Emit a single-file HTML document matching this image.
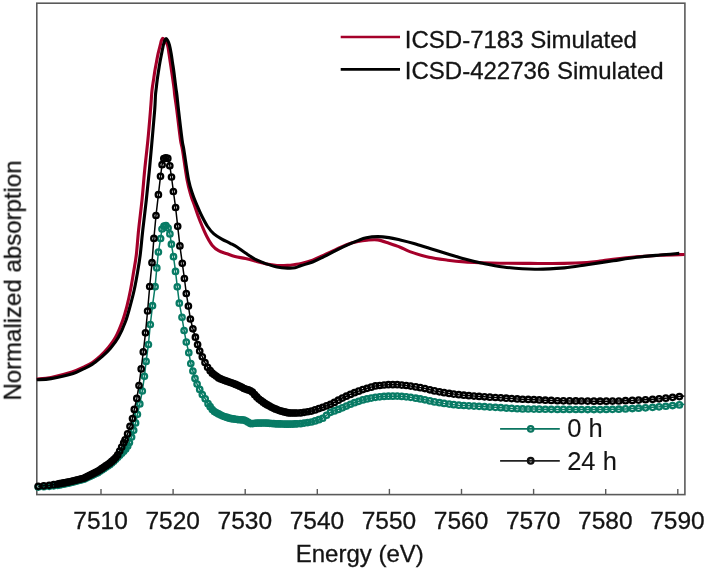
<!DOCTYPE html>
<html><head><meta charset="utf-8"><style>
html,body{margin:0;padding:0;background:#fff;width:708px;height:571px;overflow:hidden}
svg{display:block;filter:blur(0.35px)}
text{font-family:"Liberation Sans",sans-serif}
</style></head><body>
<svg width="708" height="571" viewBox="0 0 708 571">
<rect width="708" height="571" fill="#fff"/>
<rect x="36.8" y="3.2" width="648.1" height="491.4" fill="none" stroke="#5a5a5a" stroke-width="1.6"/>
<g stroke="#5a5a5a" stroke-width="1.4"><line x1="101.00" y1="494.6" x2="101.00" y2="488.9"/><line x1="173.10" y1="494.6" x2="173.10" y2="488.9"/><line x1="245.20" y1="494.6" x2="245.20" y2="488.9"/><line x1="317.30" y1="494.6" x2="317.30" y2="488.9"/><line x1="389.40" y1="494.6" x2="389.40" y2="488.9"/><line x1="461.50" y1="494.6" x2="461.50" y2="488.9"/><line x1="533.60" y1="494.6" x2="533.60" y2="488.9"/><line x1="605.70" y1="494.6" x2="605.70" y2="488.9"/><line x1="677.80" y1="494.6" x2="677.80" y2="488.9"/></g>
<defs><clipPath id="c"><rect x="36.8" y="3.2" width="647.7" height="491.2"/></clipPath></defs>
<g>
<g fill="none" stroke-linejoin="round" stroke-linecap="butt">
<path d="M36.80,379.00 C39.17,378.73 45.13,378.57 51.00,377.40 C56.87,376.23 66.33,373.82 72.00,372.00 C77.67,370.18 81.60,368.08 85.00,366.50 C88.40,364.92 89.87,364.22 92.40,362.50 C94.93,360.78 97.65,358.57 100.20,356.20 C102.75,353.83 105.15,351.45 107.70,348.30 C110.25,345.15 113.07,341.77 115.50,337.30 C117.93,332.83 120.38,326.75 122.30,321.50 C124.22,316.25 125.63,311.05 127.00,305.80 C128.37,300.55 129.40,295.63 130.50,290.00 C131.60,284.37 132.63,277.83 133.60,272.00 C134.57,266.17 135.47,262.00 136.30,255.00 C137.13,248.00 137.65,239.17 138.60,230.00 C139.55,220.83 140.98,210.00 142.00,200.00 C143.02,190.00 143.72,180.00 144.70,170.00 C145.68,160.00 146.93,150.00 147.90,140.00 C148.87,130.00 149.88,117.50 150.50,110.00 C151.12,102.50 151.32,98.55 151.60,95.00 C151.88,91.45 151.88,91.20 152.20,88.70 C152.52,86.20 153.07,82.92 153.50,80.00 C153.93,77.08 154.32,74.12 154.80,71.20 C155.28,68.28 155.85,65.42 156.40,62.50 C156.95,59.58 157.45,56.62 158.10,53.70 C158.75,50.78 159.75,47.18 160.30,45.00 C160.85,42.82 160.98,41.70 161.40,40.60 C161.82,39.50 162.27,38.40 162.80,38.40 C163.33,38.40 163.82,39.50 164.60,40.60 C165.38,41.70 166.77,42.82 167.50,45.00 C168.23,47.18 168.53,50.78 169.00,53.70 C169.47,56.62 169.87,59.58 170.30,62.50 C170.73,65.42 171.17,68.28 171.60,71.20 C172.03,74.12 172.48,77.08 172.90,80.00 C173.32,82.92 173.80,86.20 174.10,88.70 C174.40,91.20 174.25,91.45 174.70,95.00 C175.15,98.55 175.83,102.50 176.80,110.00 C177.77,117.50 179.55,133.33 180.50,140.00 C181.45,146.67 181.40,143.33 182.50,150.00 C183.60,156.67 185.72,172.50 187.10,180.00 C188.48,187.50 189.57,190.75 190.80,195.00 C192.03,199.25 193.28,202.00 194.50,205.50 C195.72,209.00 196.80,212.50 198.10,216.00 C199.40,219.50 200.80,223.00 202.30,226.50 C203.80,230.00 205.43,233.85 207.10,237.00 C208.77,240.15 210.38,243.12 212.30,245.40 C214.22,247.68 216.15,249.30 218.60,250.70 C221.05,252.10 224.27,252.83 227.00,253.80 C229.73,254.77 231.92,255.70 235.00,256.50 C238.08,257.30 242.00,257.80 245.50,258.60 C249.00,259.40 252.50,260.38 256.00,261.30 C259.50,262.22 263.00,263.40 266.50,264.10 C270.00,264.80 273.50,265.28 277.00,265.50 C280.50,265.72 284.50,265.57 287.50,265.40 C290.50,265.23 292.70,264.83 295.00,264.50 C297.30,264.17 298.37,264.13 301.30,263.40 C304.23,262.67 308.83,261.48 312.60,260.10 C316.37,258.72 320.13,256.82 323.90,255.10 C327.67,253.38 331.43,251.53 335.20,249.80 C338.97,248.07 342.73,246.07 346.50,244.70 C350.27,243.33 354.38,242.35 357.80,241.60 C361.22,240.85 363.70,240.48 367.00,240.20 C370.30,239.92 373.93,239.38 377.60,239.90 C381.27,240.42 385.23,242.08 389.00,243.30 C392.77,244.52 396.73,245.82 400.20,247.20 C403.67,248.58 405.00,249.92 409.80,251.60 C414.60,253.28 422.67,255.87 429.00,257.30 C435.33,258.73 441.85,259.43 447.80,260.20 C453.75,260.97 459.05,261.48 464.70,261.90 C470.35,262.32 475.82,262.48 481.70,262.70 C487.58,262.92 491.88,263.08 500.00,263.20 C508.12,263.32 519.68,263.37 530.40,263.40 C541.12,263.43 554.88,263.55 564.30,263.40 C573.72,263.25 580.95,262.88 586.90,262.50 C592.85,262.12 595.65,261.63 600.00,261.10 C604.35,260.57 606.90,260.02 613.00,259.30 C619.10,258.58 628.77,257.48 636.60,256.80 C644.43,256.12 652.02,255.58 660.00,255.20 C667.98,254.82 680.42,254.62 684.50,254.50" stroke="#a5002a" stroke-width="3.1"/>
<path d="M36.80,379.80 C39.17,379.60 45.07,379.60 51.00,378.60 C56.93,377.60 66.90,375.47 72.40,373.80 C77.90,372.13 81.07,369.95 84.00,368.60 C86.93,367.25 88.22,366.72 90.00,365.70 C91.78,364.68 92.60,364.08 94.70,362.50 C96.80,360.92 99.97,358.57 102.60,356.20 C105.23,353.83 107.87,351.45 110.50,348.30 C113.13,345.15 115.90,341.77 118.40,337.30 C120.90,332.83 123.53,326.75 125.50,321.50 C127.47,316.25 128.75,311.05 130.20,305.80 C131.65,300.55 132.97,295.63 134.20,290.00 C135.43,284.37 136.60,277.83 137.60,272.00 C138.60,266.17 139.33,262.00 140.20,255.00 C141.07,248.00 141.78,239.17 142.80,230.00 C143.82,220.83 145.20,210.00 146.30,200.00 C147.40,190.00 148.43,180.00 149.40,170.00 C150.37,160.00 151.22,150.00 152.10,140.00 C152.98,130.00 154.13,117.50 154.70,110.00 C155.27,102.50 155.25,98.55 155.50,95.00 C155.75,91.45 155.92,91.20 156.20,88.70 C156.48,86.20 156.82,82.92 157.20,80.00 C157.58,77.08 158.05,74.12 158.50,71.20 C158.95,68.28 159.38,65.42 159.90,62.50 C160.42,59.58 161.02,56.62 161.60,53.70 C162.18,50.78 162.90,47.15 163.40,45.00 C163.90,42.85 164.15,41.87 164.60,40.80 C165.05,39.73 165.57,38.60 166.10,38.60 C166.63,38.60 167.25,39.73 167.80,40.80 C168.35,41.87 168.83,42.85 169.40,45.00 C169.97,47.15 170.68,50.78 171.20,53.70 C171.72,56.62 172.07,59.58 172.50,62.50 C172.93,65.42 173.40,68.28 173.80,71.20 C174.20,74.12 174.53,77.08 174.90,80.00 C175.27,82.92 175.67,86.20 176.00,88.70 C176.33,91.20 176.48,91.45 176.90,95.00 C177.32,98.55 177.63,102.50 178.50,110.00 C179.37,117.50 181.20,133.33 182.10,140.00 C183.00,146.67 182.82,143.33 183.90,150.00 C184.98,156.67 187.10,172.50 188.60,180.00 C190.10,187.50 191.48,190.75 192.90,195.00 C194.32,199.25 195.62,202.00 197.10,205.50 C198.58,209.00 200.05,212.50 201.80,216.00 C203.55,219.50 205.58,223.52 207.60,226.50 C209.62,229.48 211.53,231.80 213.90,233.90 C216.27,236.00 219.08,237.53 221.80,239.10 C224.52,240.67 227.67,241.98 230.20,243.30 C232.73,244.62 234.45,245.38 237.00,247.00 C239.55,248.62 242.33,250.88 245.50,253.00 C248.67,255.12 252.50,257.88 256.00,259.70 C259.50,261.52 263.00,262.68 266.50,263.90 C270.00,265.12 273.50,266.30 277.00,267.00 C280.50,267.70 284.50,267.97 287.50,268.10 C290.50,268.23 292.70,268.23 295.00,267.80 C297.30,267.37 298.37,266.47 301.30,265.50 C304.23,264.53 308.83,263.48 312.60,262.00 C316.37,260.52 320.13,258.45 323.90,256.60 C327.67,254.75 331.43,252.78 335.20,250.90 C338.97,249.02 342.73,247.02 346.50,245.30 C350.27,243.58 354.50,241.85 357.80,240.60 C361.10,239.35 363.00,238.47 366.30,237.80 C369.60,237.13 373.83,236.63 377.60,236.60 C381.37,236.57 385.13,237.03 388.90,237.60 C392.67,238.17 396.03,239.02 400.20,240.00 C404.37,240.98 408.80,242.03 413.90,243.50 C419.00,244.97 425.15,247.07 430.80,248.80 C436.45,250.53 442.15,252.20 447.80,253.90 C453.45,255.60 459.13,257.48 464.70,259.00 C470.27,260.52 474.77,261.67 481.20,263.00 C487.63,264.33 494.35,265.95 503.30,267.00 C512.25,268.05 524.73,269.15 534.90,269.30 C545.07,269.45 555.63,268.67 564.30,267.90 C572.97,267.13 578.73,265.90 586.90,264.70 C595.07,263.50 605.02,261.93 613.30,260.70 C621.58,259.47 628.83,258.25 636.60,257.30 C644.37,256.35 652.78,255.65 659.90,255.00 C667.02,254.35 676.07,253.67 679.30,253.40" stroke="#000" stroke-width="3.1"/>
<path d="M38.20,487.10 L43.80,486.70 L49.20,486.30 L53.70,485.80 L57.70,485.30 L59.70,484.89 L61.70,484.49 L63.70,484.08 L65.70,483.67 L67.70,483.27 L69.70,482.86 L71.70,482.35 L73.70,481.82 L75.70,481.29 L77.70,480.77 L79.70,480.24 L81.70,479.71 L83.70,479.18 L85.70,478.30 L87.70,477.36 L89.70,476.41 L91.70,475.47 L93.70,474.53 L95.70,473.58 L97.70,472.64 L99.70,471.37 L101.70,470.03 L103.70,468.70 L105.70,467.37 L107.70,466.03 L109.70,464.70 L111.70,462.97 L113.70,461.17 L115.70,459.30 L117.70,457.30 L119.70,455.30 L121.70,453.30 L123.70,451.30 L125.70,448.96 L127.70,445.97 L129.40,442.50 L131.60,437.00 L133.70,430.30 L135.60,422.90 L137.40,414.30 L139.80,403.90 L142.30,391.00 L144.40,376.30 L146.10,361.40 L148.40,344.50 L150.30,324.50 L152.50,305.70 L155.10,286.70 L156.80,267.90 L158.40,252.00 L160.60,238.50 L162.00,229.00 L164.00,226.20 L166.00,225.50 L168.10,228.00 L169.90,233.90 L171.40,244.20 L173.50,256.70 L175.50,271.40 L177.30,286.80 L179.30,303.20 L182.00,317.30 L184.10,330.50 L186.30,342.10 L188.80,352.70 L190.80,363.60 L192.90,371.00 L195.00,378.40 L197.10,384.10 L199.70,389.40 L202.30,394.60 L205.20,398.80 L208.05,403.72 L210.17,406.71 L212.29,409.50 L214.41,411.60 L216.53,412.78 L218.65,413.95 L220.77,415.12 L222.89,416.09 L225.01,416.77 L227.13,417.45 L229.25,418.13 L231.37,418.64 L233.49,418.94 L235.61,419.24 L237.73,419.53 L239.85,419.76 L241.97,419.88 L244.09,420.05 L246.21,421.11 L248.33,422.27 L250.45,423.58 L252.57,423.55 L254.69,423.26 L256.81,423.09 L258.93,423.07 L261.05,423.04 L263.17,423.02 L265.29,423.02 L267.41,423.17 L269.53,423.32 L271.65,423.48 L273.77,423.63 L275.89,423.78 L278.01,423.91 L280.13,423.97 L282.25,424.02 L284.37,424.08 L286.49,424.14 L288.61,424.19 L290.73,424.12 L292.85,424.03 L294.97,423.93 L297.09,423.84 L300.60,423.64 L304.15,423.11 L307.76,422.56 L311.41,422.01 L315.11,420.89 L318.86,419.68 L322.66,418.25 L326.52,415.26 L330.42,412.34 L334.36,410.88 L338.32,409.41 L342.32,407.85 L346.35,406.07 L350.41,404.27 L354.50,402.68 L358.62,401.33 L362.78,399.97 L366.97,398.97 L371.20,398.11 L375.45,397.28 L379.74,396.86 L384.07,396.44 L388.43,396.18 L392.82,396.14 L397.25,396.10 L401.70,396.45 L406.20,396.84 L410.70,397.36 L415.80,398.19 L420.30,398.93 L424.90,399.81 L429.90,400.92 L434.50,401.90 L439.50,402.69 L444.10,403.42 L449.20,404.10 L453.70,404.65 L458.80,405.16 L463.80,405.52 L468.90,405.85 L474.00,406.10 L479.10,406.36 L484.50,406.68 L489.90,407.03 L495.40,407.37 L500.80,407.72 L506.20,408.06 L511.60,408.40 L517.20,408.75 L522.60,408.94 L528.20,409.01 L533.90,409.08 L539.30,409.15 L545.30,409.23 L551.30,409.30 L557.40,409.38 L563.40,409.42 L569.60,409.45 L575.80,409.48 L581.50,409.51 L587.70,409.54 L593.90,409.57 L600.10,409.60 L606.30,409.47 L612.50,409.34 L618.80,409.20 L625.50,408.88 L632.30,408.53 L638.60,408.22 L645.50,407.86 L652.60,407.34 L659.10,406.87 L665.80,406.23 L672.60,405.57 L679.40,404.90 L684.50,404.30" stroke="#087b65" stroke-width="1.5"/>
</g>
<g fill="none" stroke="#087b65" stroke-width="2.3"><circle cx="38.20" cy="487.10" r="2.7"/><circle cx="43.80" cy="486.70" r="2.7"/><circle cx="49.20" cy="486.30" r="2.7"/><circle cx="53.70" cy="485.80" r="2.7"/><circle cx="57.70" cy="485.30" r="2.7"/><circle cx="59.70" cy="484.89" r="2.7"/><circle cx="61.70" cy="484.49" r="2.7"/><circle cx="63.70" cy="484.08" r="2.7"/><circle cx="65.70" cy="483.67" r="2.7"/><circle cx="67.70" cy="483.27" r="2.7"/><circle cx="69.70" cy="482.86" r="2.7"/><circle cx="71.70" cy="482.35" r="2.7"/><circle cx="73.70" cy="481.82" r="2.7"/><circle cx="75.70" cy="481.29" r="2.7"/><circle cx="77.70" cy="480.77" r="2.7"/><circle cx="79.70" cy="480.24" r="2.7"/><circle cx="81.70" cy="479.71" r="2.7"/><circle cx="83.70" cy="479.18" r="2.7"/><circle cx="85.70" cy="478.30" r="2.7"/><circle cx="87.70" cy="477.36" r="2.7"/><circle cx="89.70" cy="476.41" r="2.7"/><circle cx="91.70" cy="475.47" r="2.7"/><circle cx="93.70" cy="474.53" r="2.7"/><circle cx="95.70" cy="473.58" r="2.7"/><circle cx="97.70" cy="472.64" r="2.7"/><circle cx="99.70" cy="471.37" r="2.7"/><circle cx="101.70" cy="470.03" r="2.7"/><circle cx="103.70" cy="468.70" r="2.7"/><circle cx="105.70" cy="467.37" r="2.7"/><circle cx="107.70" cy="466.03" r="2.7"/><circle cx="109.70" cy="464.70" r="2.7"/><circle cx="111.70" cy="462.97" r="2.7"/><circle cx="113.70" cy="461.17" r="2.7"/><circle cx="115.70" cy="459.30" r="2.7"/><circle cx="117.70" cy="457.30" r="2.7"/><circle cx="119.70" cy="455.30" r="2.7"/><circle cx="121.70" cy="453.30" r="2.7"/><circle cx="123.70" cy="451.30" r="2.7"/><circle cx="125.70" cy="448.96" r="2.7"/><circle cx="127.70" cy="445.97" r="2.7"/><circle cx="129.40" cy="442.50" r="2.7"/><circle cx="131.60" cy="437.00" r="2.7"/><circle cx="133.70" cy="430.30" r="2.7"/><circle cx="135.60" cy="422.90" r="2.7"/><circle cx="137.40" cy="414.30" r="2.7"/><circle cx="139.80" cy="403.90" r="2.7"/><circle cx="142.30" cy="391.00" r="2.7"/><circle cx="144.40" cy="376.30" r="2.7"/><circle cx="146.10" cy="361.40" r="2.7"/><circle cx="148.40" cy="344.50" r="2.7"/><circle cx="150.30" cy="324.50" r="2.7"/><circle cx="152.50" cy="305.70" r="2.7"/><circle cx="155.10" cy="286.70" r="2.7"/><circle cx="156.80" cy="267.90" r="2.7"/><circle cx="158.40" cy="252.00" r="2.7"/><circle cx="160.60" cy="238.50" r="2.7"/><circle cx="162.00" cy="229.00" r="2.7"/><circle cx="164.00" cy="226.20" r="2.7"/><circle cx="166.00" cy="225.50" r="2.7"/><circle cx="168.10" cy="228.00" r="2.7"/><circle cx="169.90" cy="233.90" r="2.7"/><circle cx="171.40" cy="244.20" r="2.7"/><circle cx="173.50" cy="256.70" r="2.7"/><circle cx="175.50" cy="271.40" r="2.7"/><circle cx="177.30" cy="286.80" r="2.7"/><circle cx="179.30" cy="303.20" r="2.7"/><circle cx="182.00" cy="317.30" r="2.7"/><circle cx="184.10" cy="330.50" r="2.7"/><circle cx="186.30" cy="342.10" r="2.7"/><circle cx="188.80" cy="352.70" r="2.7"/><circle cx="190.80" cy="363.60" r="2.7"/><circle cx="192.90" cy="371.00" r="2.7"/><circle cx="195.00" cy="378.40" r="2.7"/><circle cx="197.10" cy="384.10" r="2.7"/><circle cx="199.70" cy="389.40" r="2.7"/><circle cx="202.30" cy="394.60" r="2.7"/><circle cx="205.20" cy="398.80" r="2.7"/><circle cx="208.05" cy="403.72" r="2.7"/><circle cx="210.17" cy="406.71" r="2.7"/><circle cx="212.29" cy="409.50" r="2.7"/><circle cx="214.41" cy="411.60" r="2.7"/><circle cx="216.53" cy="412.78" r="2.7"/><circle cx="218.65" cy="413.95" r="2.7"/><circle cx="220.77" cy="415.12" r="2.7"/><circle cx="222.89" cy="416.09" r="2.7"/><circle cx="225.01" cy="416.77" r="2.7"/><circle cx="227.13" cy="417.45" r="2.7"/><circle cx="229.25" cy="418.13" r="2.7"/><circle cx="231.37" cy="418.64" r="2.7"/><circle cx="233.49" cy="418.94" r="2.7"/><circle cx="235.61" cy="419.24" r="2.7"/><circle cx="237.73" cy="419.53" r="2.7"/><circle cx="239.85" cy="419.76" r="2.7"/><circle cx="241.97" cy="419.88" r="2.7"/><circle cx="244.09" cy="420.05" r="2.7"/><circle cx="246.21" cy="421.11" r="2.7"/><circle cx="248.33" cy="422.27" r="2.7"/><circle cx="250.45" cy="423.58" r="2.7"/><circle cx="252.57" cy="423.55" r="2.7"/><circle cx="254.69" cy="423.26" r="2.7"/><circle cx="256.81" cy="423.09" r="2.7"/><circle cx="258.93" cy="423.07" r="2.7"/><circle cx="261.05" cy="423.04" r="2.7"/><circle cx="263.17" cy="423.02" r="2.7"/><circle cx="265.29" cy="423.02" r="2.7"/><circle cx="267.41" cy="423.17" r="2.7"/><circle cx="269.53" cy="423.32" r="2.7"/><circle cx="271.65" cy="423.48" r="2.7"/><circle cx="273.77" cy="423.63" r="2.7"/><circle cx="275.89" cy="423.78" r="2.7"/><circle cx="278.01" cy="423.91" r="2.7"/><circle cx="280.13" cy="423.97" r="2.7"/><circle cx="282.25" cy="424.02" r="2.7"/><circle cx="284.37" cy="424.08" r="2.7"/><circle cx="286.49" cy="424.14" r="2.7"/><circle cx="288.61" cy="424.19" r="2.7"/><circle cx="290.73" cy="424.12" r="2.7"/><circle cx="292.85" cy="424.03" r="2.7"/><circle cx="294.97" cy="423.93" r="2.7"/><circle cx="297.09" cy="423.84" r="2.7"/><circle cx="300.60" cy="423.64" r="2.7"/><circle cx="304.15" cy="423.11" r="2.7"/><circle cx="307.76" cy="422.56" r="2.7"/><circle cx="311.41" cy="422.01" r="2.7"/><circle cx="315.11" cy="420.89" r="2.7"/><circle cx="318.86" cy="419.68" r="2.7"/><circle cx="322.66" cy="418.25" r="2.7"/><circle cx="326.52" cy="415.26" r="2.7"/><circle cx="330.42" cy="412.34" r="2.7"/><circle cx="334.36" cy="410.88" r="2.7"/><circle cx="338.32" cy="409.41" r="2.7"/><circle cx="342.32" cy="407.85" r="2.7"/><circle cx="346.35" cy="406.07" r="2.7"/><circle cx="350.41" cy="404.27" r="2.7"/><circle cx="354.50" cy="402.68" r="2.7"/><circle cx="358.62" cy="401.33" r="2.7"/><circle cx="362.78" cy="399.97" r="2.7"/><circle cx="366.97" cy="398.97" r="2.7"/><circle cx="371.20" cy="398.11" r="2.7"/><circle cx="375.45" cy="397.28" r="2.7"/><circle cx="379.74" cy="396.86" r="2.7"/><circle cx="384.07" cy="396.44" r="2.7"/><circle cx="388.43" cy="396.18" r="2.7"/><circle cx="392.82" cy="396.14" r="2.7"/><circle cx="397.25" cy="396.10" r="2.7"/><circle cx="401.70" cy="396.45" r="2.7"/><circle cx="406.20" cy="396.84" r="2.7"/><circle cx="410.70" cy="397.36" r="2.7"/><circle cx="415.80" cy="398.19" r="2.7"/><circle cx="420.30" cy="398.93" r="2.7"/><circle cx="424.90" cy="399.81" r="2.7"/><circle cx="429.90" cy="400.92" r="2.7"/><circle cx="434.50" cy="401.90" r="2.7"/><circle cx="439.50" cy="402.69" r="2.7"/><circle cx="444.10" cy="403.42" r="2.7"/><circle cx="449.20" cy="404.10" r="2.7"/><circle cx="453.70" cy="404.65" r="2.7"/><circle cx="458.80" cy="405.16" r="2.7"/><circle cx="463.80" cy="405.52" r="2.7"/><circle cx="468.90" cy="405.85" r="2.7"/><circle cx="474.00" cy="406.10" r="2.7"/><circle cx="479.10" cy="406.36" r="2.7"/><circle cx="484.50" cy="406.68" r="2.7"/><circle cx="489.90" cy="407.03" r="2.7"/><circle cx="495.40" cy="407.37" r="2.7"/><circle cx="500.80" cy="407.72" r="2.7"/><circle cx="506.20" cy="408.06" r="2.7"/><circle cx="511.60" cy="408.40" r="2.7"/><circle cx="517.20" cy="408.75" r="2.7"/><circle cx="522.60" cy="408.94" r="2.7"/><circle cx="528.20" cy="409.01" r="2.7"/><circle cx="533.90" cy="409.08" r="2.7"/><circle cx="539.30" cy="409.15" r="2.7"/><circle cx="545.30" cy="409.23" r="2.7"/><circle cx="551.30" cy="409.30" r="2.7"/><circle cx="557.40" cy="409.38" r="2.7"/><circle cx="563.40" cy="409.42" r="2.7"/><circle cx="569.60" cy="409.45" r="2.7"/><circle cx="575.80" cy="409.48" r="2.7"/><circle cx="581.50" cy="409.51" r="2.7"/><circle cx="587.70" cy="409.54" r="2.7"/><circle cx="593.90" cy="409.57" r="2.7"/><circle cx="600.10" cy="409.60" r="2.7"/><circle cx="606.30" cy="409.47" r="2.7"/><circle cx="612.50" cy="409.34" r="2.7"/><circle cx="618.80" cy="409.20" r="2.7"/><circle cx="625.50" cy="408.88" r="2.7"/><circle cx="632.30" cy="408.53" r="2.7"/><circle cx="638.60" cy="408.22" r="2.7"/><circle cx="645.50" cy="407.86" r="2.7"/><circle cx="652.60" cy="407.34" r="2.7"/><circle cx="659.10" cy="406.87" r="2.7"/><circle cx="665.80" cy="406.23" r="2.7"/><circle cx="672.60" cy="405.57" r="2.7"/><circle cx="679.40" cy="404.90" r="2.7"/></g>
<path d="M38.20,486.30 L43.80,485.80 L49.20,485.30 L53.70,484.70 L57.70,484.10 L59.70,483.71 L61.70,483.32 L63.70,482.93 L65.70,482.54 L67.70,482.15 L69.70,481.76 L71.70,481.27 L73.70,480.77 L75.70,480.27 L77.70,479.77 L79.70,479.27 L81.70,478.77 L83.70,478.27 L85.70,477.35 L87.70,476.35 L89.70,475.35 L91.70,474.35 L93.70,473.35 L95.70,472.35 L97.70,471.35 L99.70,470.04 L101.70,468.67 L103.70,467.31 L105.70,465.94 L107.70,464.57 L109.70,463.20 L111.70,461.47 L113.70,459.67 L115.70,457.57 L117.70,454.90 L119.70,451.10 L121.70,447.05 L123.70,442.83 L125.10,439.80 L127.60,433.90 L130.00,426.30 L132.50,418.60 L134.30,409.40 L136.80,398.40 L139.00,385.50 L141.20,368.90 L143.30,351.90 L145.50,332.80 L147.60,311.00 L149.70,286.50 L152.00,262.70 L153.90,238.40 L156.00,215.50 L158.40,194.70 L160.50,176.30 L162.10,164.70 L163.80,158.60 L165.80,157.80 L167.80,158.40 L169.80,165.80 L171.50,177.00 L173.40,191.50 L175.60,207.50 L177.70,226.30 L179.90,245.90 L182.30,263.30 L184.40,278.50 L186.30,293.50 L188.40,306.10 L190.40,319.00 L192.90,328.80 L195.40,337.20 L197.60,344.50 L199.70,351.00 L202.30,356.80 L205.00,362.60 L207.60,367.30 L210.17,370.63 L212.29,373.22 L214.41,374.79 L216.53,376.37 L218.65,377.94 L220.77,378.91 L222.89,379.76 L225.01,380.60 L227.13,381.37 L229.25,382.07 L231.37,382.76 L233.49,383.51 L235.61,384.42 L237.73,385.33 L239.85,386.24 L241.97,387.36 L244.09,388.51 L246.21,389.35 L248.33,389.95 L250.45,390.84 L252.57,392.17 L254.69,394.65 L256.81,396.91 L258.93,399.03 L261.05,400.59 L263.17,402.14 L265.29,403.68 L267.41,404.97 L269.53,406.12 L271.65,407.27 L273.77,408.31 L275.89,409.16 L278.01,410.00 L280.13,410.83 L282.25,411.36 L284.37,411.88 L286.49,412.40 L288.61,412.93 L290.73,413.00 L292.85,413.00 L294.97,413.00 L297.09,413.00 L300.60,412.93 L304.15,412.34 L307.76,411.73 L311.41,411.12 L315.11,409.89 L318.86,408.62 L322.66,407.35 L326.52,405.85 L330.42,404.30 L334.36,402.45 L338.32,400.20 L342.32,398.04 L346.35,396.22 L350.41,394.39 L354.50,392.69 L358.62,391.16 L362.78,389.62 L366.97,388.33 L371.20,387.13 L375.45,385.97 L379.74,385.48 L384.07,384.98 L388.43,384.70 L392.82,384.70 L397.25,384.70 L401.70,385.08 L406.20,385.52 L410.70,386.06 L415.80,386.89 L420.30,387.63 L424.90,388.57 L429.90,389.81 L434.50,390.91 L439.50,391.84 L444.10,392.70 L449.20,393.47 L453.70,394.10 L458.80,394.72 L463.80,395.21 L468.90,395.68 L474.00,396.06 L479.10,396.43 L484.50,396.80 L489.90,397.15 L495.40,397.51 L500.80,397.87 L506.20,398.22 L511.60,398.58 L517.20,398.95 L522.60,399.23 L528.20,399.47 L533.90,399.72 L539.30,399.95 L545.30,400.21 L551.30,400.47 L557.40,400.73 L563.40,400.84 L569.60,400.90 L575.80,400.96 L581.50,401.02 L587.70,401.08 L593.90,401.14 L600.10,401.20 L606.30,401.13 L612.50,401.07 L618.80,401.00 L625.50,400.70 L632.30,400.39 L638.60,400.10 L645.50,399.77 L652.60,399.29 L659.10,398.86 L665.80,398.14 L672.60,397.37 L679.40,396.60 L684.50,396.00" fill="none" stroke="#000" stroke-width="1.5"/>
<g fill="none" stroke="#000" stroke-width="2.3"><circle cx="38.20" cy="486.30" r="2.7"/><circle cx="43.80" cy="485.80" r="2.7"/><circle cx="49.20" cy="485.30" r="2.7"/><circle cx="53.70" cy="484.70" r="2.7"/><circle cx="57.70" cy="484.10" r="2.7"/><circle cx="59.70" cy="483.71" r="2.7"/><circle cx="61.70" cy="483.32" r="2.7"/><circle cx="63.70" cy="482.93" r="2.7"/><circle cx="65.70" cy="482.54" r="2.7"/><circle cx="67.70" cy="482.15" r="2.7"/><circle cx="69.70" cy="481.76" r="2.7"/><circle cx="71.70" cy="481.27" r="2.7"/><circle cx="73.70" cy="480.77" r="2.7"/><circle cx="75.70" cy="480.27" r="2.7"/><circle cx="77.70" cy="479.77" r="2.7"/><circle cx="79.70" cy="479.27" r="2.7"/><circle cx="81.70" cy="478.77" r="2.7"/><circle cx="83.70" cy="478.27" r="2.7"/><circle cx="85.70" cy="477.35" r="2.7"/><circle cx="87.70" cy="476.35" r="2.7"/><circle cx="89.70" cy="475.35" r="2.7"/><circle cx="91.70" cy="474.35" r="2.7"/><circle cx="93.70" cy="473.35" r="2.7"/><circle cx="95.70" cy="472.35" r="2.7"/><circle cx="97.70" cy="471.35" r="2.7"/><circle cx="99.70" cy="470.04" r="2.7"/><circle cx="101.70" cy="468.67" r="2.7"/><circle cx="103.70" cy="467.31" r="2.7"/><circle cx="105.70" cy="465.94" r="2.7"/><circle cx="107.70" cy="464.57" r="2.7"/><circle cx="109.70" cy="463.20" r="2.7"/><circle cx="111.70" cy="461.47" r="2.7"/><circle cx="113.70" cy="459.67" r="2.7"/><circle cx="115.70" cy="457.57" r="2.7"/><circle cx="117.70" cy="454.90" r="2.7"/><circle cx="119.70" cy="451.10" r="2.7"/><circle cx="121.70" cy="447.05" r="2.7"/><circle cx="123.70" cy="442.83" r="2.7"/><circle cx="125.10" cy="439.80" r="2.7"/><circle cx="127.60" cy="433.90" r="2.7"/><circle cx="130.00" cy="426.30" r="2.7"/><circle cx="132.50" cy="418.60" r="2.7"/><circle cx="134.30" cy="409.40" r="2.7"/><circle cx="136.80" cy="398.40" r="2.7"/><circle cx="139.00" cy="385.50" r="2.7"/><circle cx="141.20" cy="368.90" r="2.7"/><circle cx="143.30" cy="351.90" r="2.7"/><circle cx="145.50" cy="332.80" r="2.7"/><circle cx="147.60" cy="311.00" r="2.7"/><circle cx="149.70" cy="286.50" r="2.7"/><circle cx="152.00" cy="262.70" r="2.7"/><circle cx="153.90" cy="238.40" r="2.7"/><circle cx="156.00" cy="215.50" r="2.7"/><circle cx="158.40" cy="194.70" r="2.7"/><circle cx="160.50" cy="176.30" r="2.7"/><circle cx="162.10" cy="164.70" r="2.7"/><circle cx="163.80" cy="158.60" r="2.7"/><circle cx="165.80" cy="157.80" r="2.7"/><circle cx="167.80" cy="158.40" r="2.7"/><circle cx="169.80" cy="165.80" r="2.7"/><circle cx="171.50" cy="177.00" r="2.7"/><circle cx="173.40" cy="191.50" r="2.7"/><circle cx="175.60" cy="207.50" r="2.7"/><circle cx="177.70" cy="226.30" r="2.7"/><circle cx="179.90" cy="245.90" r="2.7"/><circle cx="182.30" cy="263.30" r="2.7"/><circle cx="184.40" cy="278.50" r="2.7"/><circle cx="186.30" cy="293.50" r="2.7"/><circle cx="188.40" cy="306.10" r="2.7"/><circle cx="190.40" cy="319.00" r="2.7"/><circle cx="192.90" cy="328.80" r="2.7"/><circle cx="195.40" cy="337.20" r="2.7"/><circle cx="197.60" cy="344.50" r="2.7"/><circle cx="199.70" cy="351.00" r="2.7"/><circle cx="202.30" cy="356.80" r="2.7"/><circle cx="205.00" cy="362.60" r="2.7"/><circle cx="207.60" cy="367.30" r="2.7"/><circle cx="210.17" cy="370.63" r="2.7"/><circle cx="212.29" cy="373.22" r="2.7"/><circle cx="214.41" cy="374.79" r="2.7"/><circle cx="216.53" cy="376.37" r="2.7"/><circle cx="218.65" cy="377.94" r="2.7"/><circle cx="220.77" cy="378.91" r="2.7"/><circle cx="222.89" cy="379.76" r="2.7"/><circle cx="225.01" cy="380.60" r="2.7"/><circle cx="227.13" cy="381.37" r="2.7"/><circle cx="229.25" cy="382.07" r="2.7"/><circle cx="231.37" cy="382.76" r="2.7"/><circle cx="233.49" cy="383.51" r="2.7"/><circle cx="235.61" cy="384.42" r="2.7"/><circle cx="237.73" cy="385.33" r="2.7"/><circle cx="239.85" cy="386.24" r="2.7"/><circle cx="241.97" cy="387.36" r="2.7"/><circle cx="244.09" cy="388.51" r="2.7"/><circle cx="246.21" cy="389.35" r="2.7"/><circle cx="248.33" cy="389.95" r="2.7"/><circle cx="250.45" cy="390.84" r="2.7"/><circle cx="252.57" cy="392.17" r="2.7"/><circle cx="254.69" cy="394.65" r="2.7"/><circle cx="256.81" cy="396.91" r="2.7"/><circle cx="258.93" cy="399.03" r="2.7"/><circle cx="261.05" cy="400.59" r="2.7"/><circle cx="263.17" cy="402.14" r="2.7"/><circle cx="265.29" cy="403.68" r="2.7"/><circle cx="267.41" cy="404.97" r="2.7"/><circle cx="269.53" cy="406.12" r="2.7"/><circle cx="271.65" cy="407.27" r="2.7"/><circle cx="273.77" cy="408.31" r="2.7"/><circle cx="275.89" cy="409.16" r="2.7"/><circle cx="278.01" cy="410.00" r="2.7"/><circle cx="280.13" cy="410.83" r="2.7"/><circle cx="282.25" cy="411.36" r="2.7"/><circle cx="284.37" cy="411.88" r="2.7"/><circle cx="286.49" cy="412.40" r="2.7"/><circle cx="288.61" cy="412.93" r="2.7"/><circle cx="290.73" cy="413.00" r="2.7"/><circle cx="292.85" cy="413.00" r="2.7"/><circle cx="294.97" cy="413.00" r="2.7"/><circle cx="297.09" cy="413.00" r="2.7"/><circle cx="300.60" cy="412.93" r="2.7"/><circle cx="304.15" cy="412.34" r="2.7"/><circle cx="307.76" cy="411.73" r="2.7"/><circle cx="311.41" cy="411.12" r="2.7"/><circle cx="315.11" cy="409.89" r="2.7"/><circle cx="318.86" cy="408.62" r="2.7"/><circle cx="322.66" cy="407.35" r="2.7"/><circle cx="326.52" cy="405.85" r="2.7"/><circle cx="330.42" cy="404.30" r="2.7"/><circle cx="334.36" cy="402.45" r="2.7"/><circle cx="338.32" cy="400.20" r="2.7"/><circle cx="342.32" cy="398.04" r="2.7"/><circle cx="346.35" cy="396.22" r="2.7"/><circle cx="350.41" cy="394.39" r="2.7"/><circle cx="354.50" cy="392.69" r="2.7"/><circle cx="358.62" cy="391.16" r="2.7"/><circle cx="362.78" cy="389.62" r="2.7"/><circle cx="366.97" cy="388.33" r="2.7"/><circle cx="371.20" cy="387.13" r="2.7"/><circle cx="375.45" cy="385.97" r="2.7"/><circle cx="379.74" cy="385.48" r="2.7"/><circle cx="384.07" cy="384.98" r="2.7"/><circle cx="388.43" cy="384.70" r="2.7"/><circle cx="392.82" cy="384.70" r="2.7"/><circle cx="397.25" cy="384.70" r="2.7"/><circle cx="401.70" cy="385.08" r="2.7"/><circle cx="406.20" cy="385.52" r="2.7"/><circle cx="410.70" cy="386.06" r="2.7"/><circle cx="415.80" cy="386.89" r="2.7"/><circle cx="420.30" cy="387.63" r="2.7"/><circle cx="424.90" cy="388.57" r="2.7"/><circle cx="429.90" cy="389.81" r="2.7"/><circle cx="434.50" cy="390.91" r="2.7"/><circle cx="439.50" cy="391.84" r="2.7"/><circle cx="444.10" cy="392.70" r="2.7"/><circle cx="449.20" cy="393.47" r="2.7"/><circle cx="453.70" cy="394.10" r="2.7"/><circle cx="458.80" cy="394.72" r="2.7"/><circle cx="463.80" cy="395.21" r="2.7"/><circle cx="468.90" cy="395.68" r="2.7"/><circle cx="474.00" cy="396.06" r="2.7"/><circle cx="479.10" cy="396.43" r="2.7"/><circle cx="484.50" cy="396.80" r="2.7"/><circle cx="489.90" cy="397.15" r="2.7"/><circle cx="495.40" cy="397.51" r="2.7"/><circle cx="500.80" cy="397.87" r="2.7"/><circle cx="506.20" cy="398.22" r="2.7"/><circle cx="511.60" cy="398.58" r="2.7"/><circle cx="517.20" cy="398.95" r="2.7"/><circle cx="522.60" cy="399.23" r="2.7"/><circle cx="528.20" cy="399.47" r="2.7"/><circle cx="533.90" cy="399.72" r="2.7"/><circle cx="539.30" cy="399.95" r="2.7"/><circle cx="545.30" cy="400.21" r="2.7"/><circle cx="551.30" cy="400.47" r="2.7"/><circle cx="557.40" cy="400.73" r="2.7"/><circle cx="563.40" cy="400.84" r="2.7"/><circle cx="569.60" cy="400.90" r="2.7"/><circle cx="575.80" cy="400.96" r="2.7"/><circle cx="581.50" cy="401.02" r="2.7"/><circle cx="587.70" cy="401.08" r="2.7"/><circle cx="593.90" cy="401.14" r="2.7"/><circle cx="600.10" cy="401.20" r="2.7"/><circle cx="606.30" cy="401.13" r="2.7"/><circle cx="612.50" cy="401.07" r="2.7"/><circle cx="618.80" cy="401.00" r="2.7"/><circle cx="625.50" cy="400.70" r="2.7"/><circle cx="632.30" cy="400.39" r="2.7"/><circle cx="638.60" cy="400.10" r="2.7"/><circle cx="645.50" cy="399.77" r="2.7"/><circle cx="652.60" cy="399.29" r="2.7"/><circle cx="659.10" cy="398.86" r="2.7"/><circle cx="665.80" cy="398.14" r="2.7"/><circle cx="672.60" cy="397.37" r="2.7"/><circle cx="679.40" cy="396.60" r="2.7"/></g>
</g>
<g font-family="Liberation Sans, sans-serif" font-size="24" fill="#141414" stroke="#141414" stroke-width="0.3" style="opacity:0.999">
<text x="100.60" y="529.2" text-anchor="middle" font-size="24.5">7510</text><text x="172.70" y="529.2" text-anchor="middle" font-size="24.5">7520</text><text x="244.80" y="529.2" text-anchor="middle" font-size="24.5">7530</text><text x="316.90" y="529.2" text-anchor="middle" font-size="24.5">7540</text><text x="389.00" y="529.2" text-anchor="middle" font-size="24.5">7550</text><text x="461.10" y="529.2" text-anchor="middle" font-size="24.5">7560</text><text x="533.20" y="529.2" text-anchor="middle" font-size="24.5">7570</text><text x="605.30" y="529.2" text-anchor="middle" font-size="24.5">7580</text><text x="677.40" y="529.2" text-anchor="middle" font-size="24.5">7590</text>
<text x="359.8" y="562" text-anchor="middle" font-size="24">Energy (eV)</text>
<text transform="translate(20.8,280.5) rotate(-90)" text-anchor="middle">Normalized absorption</text>
<text x="404.8" y="48">ICSD-7183 Simulated</text>
<text x="404.8" y="78.8">ICSD-422736 Simulated</text>
<text x="567.2" y="437.4" font-size="25.5" stroke-width="0.1">0 h</text>
<text x="567.2" y="469.5" font-size="25.5" stroke-width="0.1">24 h</text>
</g>
<line x1="340.7" y1="37" x2="400" y2="37" stroke="#a5002a" stroke-width="2.7"/>
<line x1="340.7" y1="69.4" x2="400" y2="69.4" stroke="#000" stroke-width="2.7"/>
<line x1="500.1" y1="428.9" x2="559.8" y2="428.9" stroke="#0b7560" stroke-width="1.8"/>
<circle cx="530.7" cy="428.9" r="2.7" fill="none" stroke="#0b7560" stroke-width="2.2"/>
<line x1="500.1" y1="460.8" x2="559.8" y2="460.8" stroke="#222" stroke-width="1.8"/>
<circle cx="530.7" cy="460.8" r="2.8" fill="none" stroke="#111" stroke-width="2.3"/>
</svg>
</body></html>
